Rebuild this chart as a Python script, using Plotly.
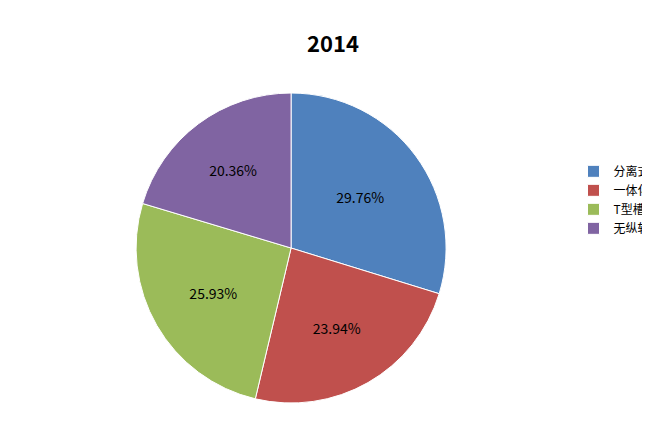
import plotly.graph_objects as go

labels = ["分离式", "一体化", "T型槽", "无纵轨"]
values = [29.76, 23.94, 25.93, 20.36]
colors = ["#4F81BD", "#C0504D", "#9BBB59", "#8064A2"]

fig = go.Figure(go.Pie(
    labels=labels, values=values, sort=False, direction="clockwise", rotation=0,
    marker=dict(colors=colors, line=dict(color="white", width=1)),
    texttemplate="%{value:.2f}%", textposition="inside", insidetextorientation="horizontal",
    textfont=dict(size=14, color="black", family="Noto Sans CJK SC"),
    domain=dict(x=[0.197, 0.674], y=[0.094, 0.805]),
))
fig.update_layout(
    width=650, height=436, paper_bgcolor="white",
    margin=dict(l=0, r=0, t=0, b=0, autoexpand=False),
    title=dict(text="<b>2014</b>", x=0.5, y=0.935, xanchor="center",
               font=dict(size=22, color="black", family="Noto Sans CJK SC")),
    legend=dict(x=0.87, y=0.56, xanchor="left", yanchor="middle",
                font=dict(size=12, family="Noto Sans CJK SC", color="black")),
    font=dict(family="Noto Sans CJK SC"),
)
fig.write_html("out.html")
